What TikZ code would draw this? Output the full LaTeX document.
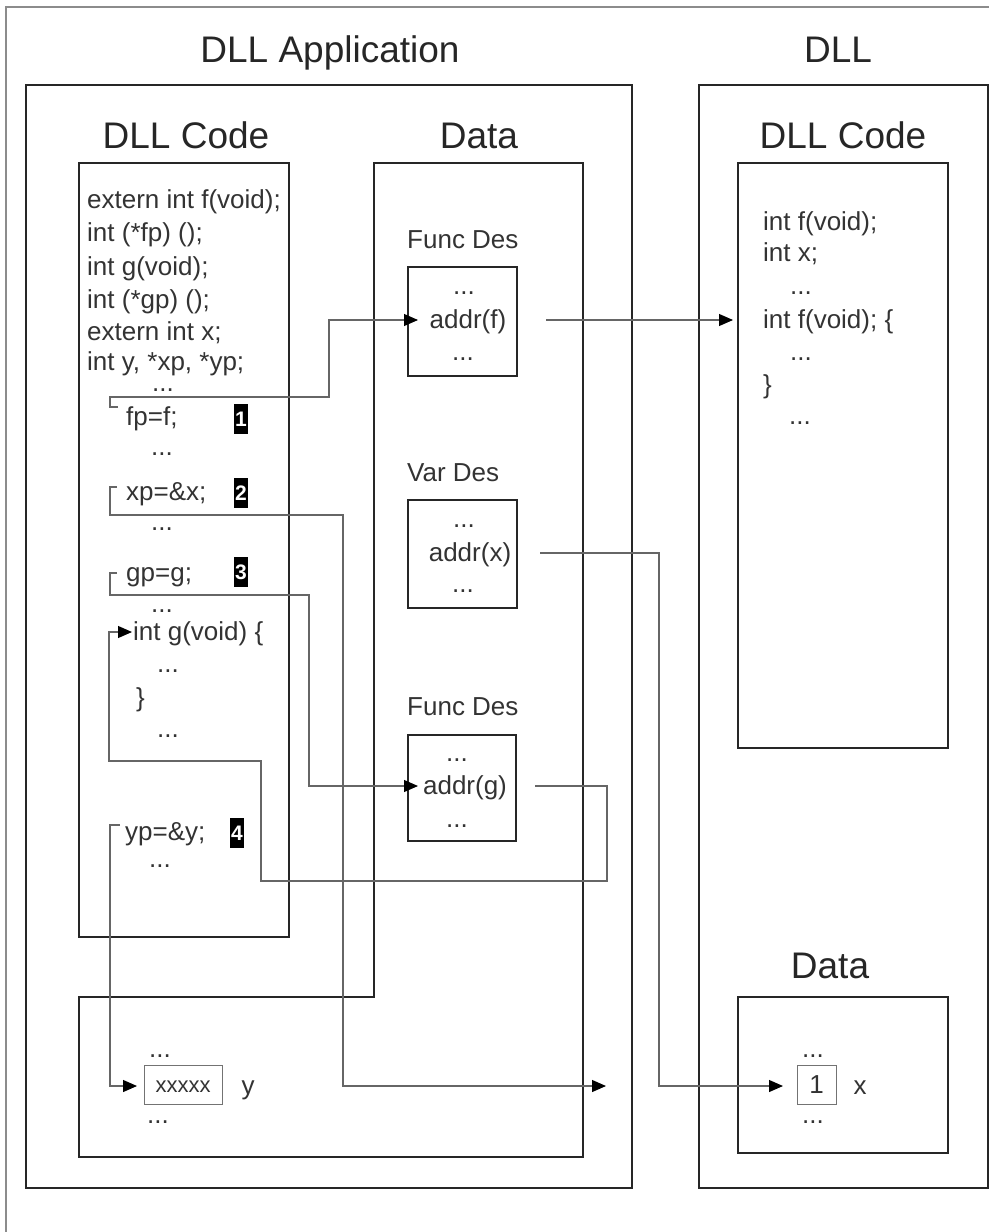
\documentclass[tikz,border=0pt]{standalone}
\usepackage{fontspec}
\setmainfont{Liberation Sans}
\usetikzlibrary{arrows.meta}
\begin{document}
\begin{tikzpicture}[x=1pt,y=-1pt,
  frame/.style={line width=2.6pt, draw=black!85},
  descbox/.style={line width=2pt, draw=black!85},
  cellbox/.style={line width=1pt, draw=black!55},
  conn/.style={line width=1.1pt, draw=black!60},
  arr/.style={conn, -{Triangle[length=14pt,width=12pt,color=black]}},
  title/.style={font=\fontsize{37}{40}\selectfont, text=black!85, inner sep=0pt, anchor=base},
  code/.style={font=\fontsize{26}{28}\selectfont, text=black!80, inner sep=0pt, anchor=mid west, yshift=-6pt},
  ctext/.style={font=\fontsize{26}{28}\selectfont, text=black!80, inner sep=0pt, anchor=mid, yshift=-6pt},
  dots/.style={font=\fontsize{26}{28}\selectfont, text=black!80, inner sep=0pt, anchor=base},
  badge/.style={fill=black, text=white, font=\bfseries\fontsize{21}{21}\selectfont, inner sep=0pt, minimum width=14pt, minimum height=30pt}
]
\useasboundingbox (0,0) rectangle (989,1232);
% outer frame
\draw[line width=1.4pt, draw=black!45] (6,1232) -- (6,7) -- (989,7);

% titles
\node[title] (tapp) at (330,62) {DLL Application};
\node[title] (tdll) at (838,62) {DLL};
\node[title] (tcode1) at (186,148) {DLL Code};
\node[title] (tdata1) at (479,148) {Data};
\node[title] (tcode2) at (843,148) {DLL Code};
\node[title] (tdata2) at (830,978) {Data};

% big boxes
\draw[frame] (26,85) rectangle (632,1188);
\draw[frame] (699,85) rectangle (988,1188);
\draw[frame] (79,163) rectangle (289,937);
\draw[frame] (374,163) -- (583,163) -- (583,1157) -- (79,1157) -- (79,997) -- (374,997) -- cycle;
\draw[frame] (738,163) rectangle (948,748);
\draw[frame] (738,997) rectangle (948,1153);

% descriptor boxes
\node[code] (lfd1) at (407,240) {Func Des};
\node[code] (lvd) at (407,473) {Var Des};
\node[code] (lfd2) at (407,707) {Func Des};
\draw[descbox] (408,267) rectangle (517,376);
\draw[descbox] (408,500) rectangle (517,608);
\draw[descbox] (408,735) rectangle (516,841);
\node[dots] (fd1a) at (464,294) {...};
\node[ctext] (addrf) at (468,320) {addr(f)};
\node[dots] (fd1b) at (463,360) {...};
\node[dots] (vda) at (464,527) {...};
\node[ctext] (addrx) at (470,553) {addr(x)};
\node[dots] (vdb) at (463,592) {...};
\node[dots] (fd2a) at (457,761) {...};
\node[ctext] (addrg) at (465,786) {addr(g)};
\node[dots] (fd2b) at (457,827) {...};

% application code
\node[code] (l1) at (87,200) {extern int f(void);};
\node[code] (l2) at (87,233) {int (*fp) ();};
\node[code] (l3) at (87,267) {int g(void);};
\node[code] (l4) at (87,300) {int (*gp) ();};
\node[code] (l5) at (87,332) {extern int x;};
\node[code] (l6) at (87,362) {int y, *xp, *yp;};
\node[dots] (d1) at (163,391) {...};
\node[code] (fpf) at (126,417) {fp=f;};
\node[badge] (b1) at (241,419) {1};
\node[dots] (d2) at (162,455) {...};
\node[code] (xpx) at (126,492) {xp=\&x;};
\node[badge] (b2) at (241,493) {2};
\node[dots] (d3) at (162,530) {...};
\node[code] (gpg) at (126,573) {gp=g;};
\node[badge] (b3) at (241,572) {3};
\node[dots] (d4) at (162,612) {...};
\node[code] (intg) at (133,632) {int g(void) \{};
\node[dots] (d5) at (168,672) {...};
\node[code] (rb) at (136,698) {\}};
\node[dots] (d6) at (168,737) {...};
\node[code] (ypy) at (125,832) {yp=\&y;};
\node[badge] (b4) at (237,833) {4};
\node[dots] (d7) at (160,867) {...};

% DLL code
\node[code] (m1) at (763,222) {int f(void);};
\node[code] (m2) at (763,253) {int x;};
\node[dots] (m3) at (801,294) {...};
\node[code] (m4) at (763,320) {int f(void); \{};
\node[dots] (m5) at (801,360) {...};
\node[code] (m6) at (763,385) {\}};
\node[dots] (m7) at (800,424) {...};

% data cells
\draw[cellbox] (144,1065) rectangle (222,1104);
\node[font=\fontsize{22}{24}\selectfont, text=black!80, inner sep=0pt, anchor=mid, yshift=-5pt] (cy) at (183,1084.5) {xxxxx};
\node[ctext] (ly) at (248,1086) {y};
\node[dots] (cya) at (160,1057) {...};
\node[dots] (cyb) at (158,1123) {...};
\draw[cellbox] (797,1065) rectangle (836,1104);
\node[font=\fontsize{26}{28}\selectfont, text=black!80, inner sep=0pt, anchor=center] (cx) at (816.5,1084.5) {1};
\node[ctext] (lx) at (860,1086) {x};
\node[dots] (cxa) at (813,1057) {...};
\node[dots] (cxb) at (813,1123) {...};

% connector coordinates
\coordinate (fpS) at (118,407);
\coordinate (fpE) at (418,320);
\coordinate (xpS) at (117,487);
\coordinate (xpE) at (606,1086);
\coordinate (gpS) at (117,573);
\coordinate (gpE) at (418,786);
\coordinate (ypS) at (120,825);
\coordinate (ypE) at (137,1086);
\coordinate (gbS) at (535,786);
\coordinate (gbE) at (132,632);
\coordinate (foS) at (546,320);
\coordinate (foE) at (733,320);
\coordinate (xoS) at (540,553);
\coordinate (xoE) at (783,1086);

% connectors
\draw[arr] (fpS) -- (110,407) -- (110,397) -- (329,397) -- (329,320) -- (fpE);
\draw[arr] (xpS) -- (110,487) -- (110,515) -- (343,515) -- (343,1086) -- (xpE);
\draw[arr] (gpS) -- (110,573) -- (110,595) -- (309,595) -- (309,786) -- (gpE);
\draw[arr] (ypS) -- (110,825) -- (110,1086) -- (ypE);
\draw[arr] (gbS) -- (607,786) -- (607,881) -- (261,881) -- (261,761) -- (109,761) -- (109,632) -- (gbE);
\draw[arr] (foS) -- (foE);
\draw[arr] (xoS) -- (659,553) -- (659,1086) -- (xoE);
\end{tikzpicture}
\end{document}
